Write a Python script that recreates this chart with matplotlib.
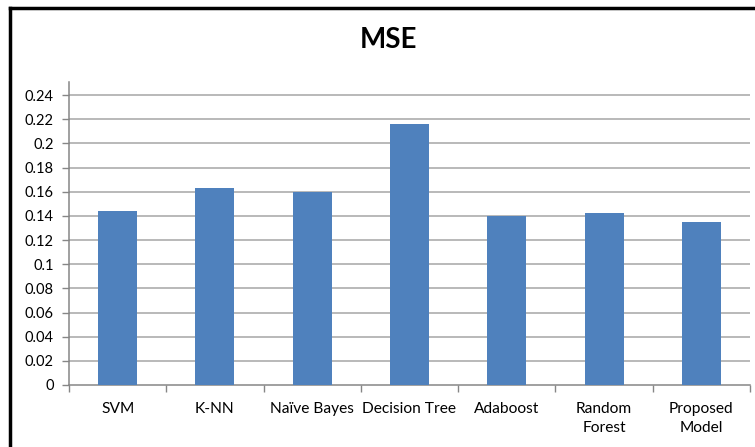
import matplotlib.pyplot as plt
import numpy as np
from matplotlib.lines import Line2D

plt.rcParams['font.family'] = ['Lato', 'DejaVu Sans']

models = ['SVM', 'K-NN', 'Naïve Bayes', 'Decision Tree', 'Adaboost',
          'Random\nForest', 'Proposed\nModel']
mse = [0.144, 0.163, 0.160, 0.216, 0.140, 0.142, 0.135]
yticks = [0, 0.02, 0.04, 0.06, 0.08, 0.1, 0.12, 0.14, 0.16, 0.18, 0.2, 0.22, 0.24]

bar_color = '#4F81BD'
axis_color = '#868686'
grid_color = '#a6a6a6'

fig = plt.figure(figsize=(7.55, 4.47), dpi=100)
ax = fig.add_axes([69 / 755, 1 - 385 / 447, 681 / 755, 303 / 447])

x = np.arange(len(models))
ax.bar(x, mse, width=0.4, color=bar_color, zorder=3)

ax.set_xlim(-0.5, len(models) - 0.5)
ax.set_ylim(0, 0.2508)
ax.set_yticks(yticks)
ax.set_yticklabels(['0' if t == 0 else ('%g' % t) for t in yticks], fontsize=10.5)
for t in yticks[1:]:
    ax.axhline(t, color=grid_color, lw=1.1, zorder=1)

# category labels between the boundary ticks
ax.set_xticks(x)
ax.set_xticklabels(models, fontsize=11.2, linespacing=1.5, va='top')
ax.tick_params(axis='x', length=0, pad=12)
ax.set_xticks(np.arange(len(models) + 1) - 0.5, minor=True)
ax.tick_params(axis='x', which='minor', length=5, color=axis_color, width=1)
ax.tick_params(axis='y', length=5, color=axis_color, width=1, pad=6)

for side in ['top', 'right']:
    ax.spines[side].set_visible(False)
for side in ['left', 'bottom']:
    ax.spines[side].set_color(axis_color)
    ax.spines[side].set_linewidth(1.1)

fig.text(389 / 755, 1 - 40 / 447, 'MSE', ha='center', va='center',
         fontsize=20, fontweight='bold')

# chart frame (top and left edges)
fig.add_artist(Line2D([10 / 755, 1], [1 - 8 / 447] * 2, color='black', lw=2.5))
fig.add_artist(Line2D([10 / 755] * 2, [0, 1 - 8 / 447], color='black', lw=2.5))

fig.savefig('out.png', dpi=100)
